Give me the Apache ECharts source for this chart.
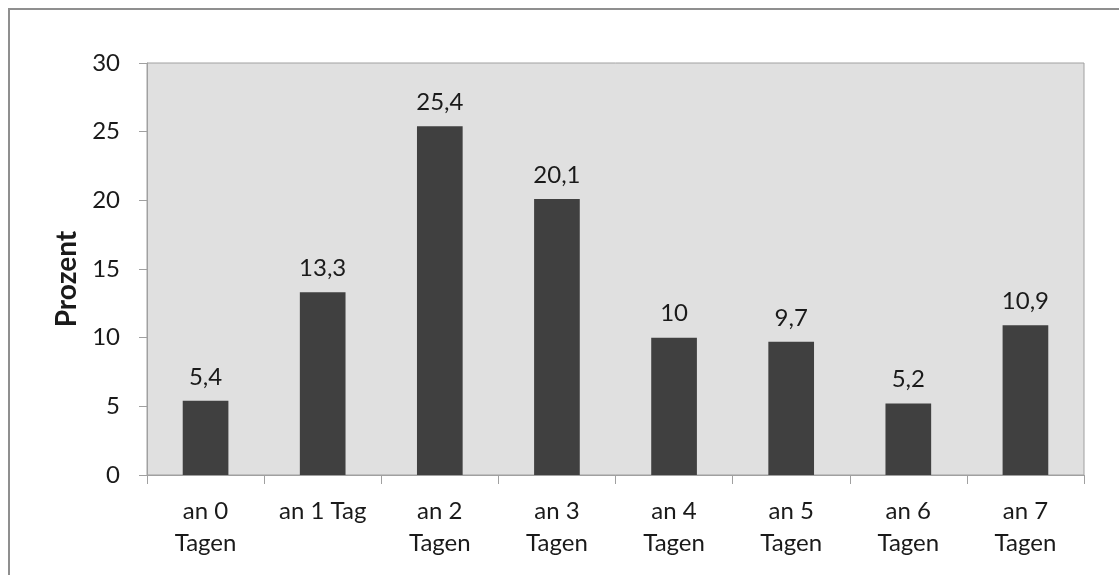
<!DOCTYPE html>
<html>
<head>
<meta charset="utf-8">
<script src="https://cdn.jsdelivr.net/npm/echarts@6/dist/echarts.min.js"></script>
<style>
  html, body { margin: 0; padding: 0; background: #fff; }
  #chart { width: 1119px; height: 575px; }
</style>
</head>
<body>
<div id="chart"></div>
<script>
// Anteil nach Anzahl der Tage
const categories = ['an 0\nTagen', 'an 1 Tag', 'an 2\nTagen', 'an 3\nTagen', 'an 4\nTagen', 'an 5\nTagen', 'an 6\nTagen', 'an 7\nTagen'];
const prozent = [5.4, 13.3, 25.4, 20.1, 10, 9.7, 5.2, 10.9];
const yTicks = [0, 5, 10, 15, 20, 25, 30];

const FONT = 'Lato, "Open Sans", sans-serif';
const chart = echarts.init(document.getElementById('chart'), null, { renderer: 'canvas' });

chart.setOption({
  animation: false,
  backgroundColor: '#ffffff',
  graphic: [{
    type: 'rect',
    shape: { x: 9, y: 9, width: 1130, height: 600 },
    style: { fill: 'none', stroke: '#8f8f8f', lineWidth: 2 },
    silent: true
  }],
  grid: {
    left: 147, top: 63, right: 35, bottom: 100,
    show: true,
    backgroundColor: '#e0e0e0',
    borderColor: '#a0a0a0',
    borderWidth: 1
  },
  xAxis: {
    type: 'category',
    data: categories,
    axisLine: { lineStyle: { color: '#a0a0a0', width: 1 } },
    axisTick: { show: true, length: 9, lineStyle: { color: '#a0a0a0' } },
    axisLabel: {
      color: '#1a1a1a', fontFamily: FONT, fontSize: 24,
      lineHeight: 32, margin: 20, interval: 0
    }
  },
  yAxis: {
    type: 'value',
    min: yTicks[0],
    max: yTicks[yTicks.length - 1],
    interval: 5,
    name: 'Prozent',
    nameLocation: 'middle',
    nameGap: 66,
    nameTextStyle: {
      color: '#1a1a1a', fontFamily: FONT, fontSize: 28, fontWeight: 'bold',
      padding: [0, 20, 0, 0]
    },
    axisLine: { show: true, lineStyle: { color: '#a0a0a0', width: 1 } },
    axisTick: { show: true, length: 8, lineStyle: { color: '#a0a0a0' } },
    splitLine: { show: false },
    axisLabel: {
      color: '#1a1a1a', fontFamily: FONT, fontSize: 24, margin: 27
    }
  },
  series: [{
    type: 'bar',
    data: prozent,
    barWidth: '39%',
    itemStyle: { color: '#404040' },
    label: {
      show: true,
      position: 'top',
      distance: 12,
      color: '#1a1a1a',
      fontFamily: FONT,
      fontSize: 24,
      formatter: p => String(p.value).replace('.', ',')
    }
  }]
});
</script>
</body>
</html>
